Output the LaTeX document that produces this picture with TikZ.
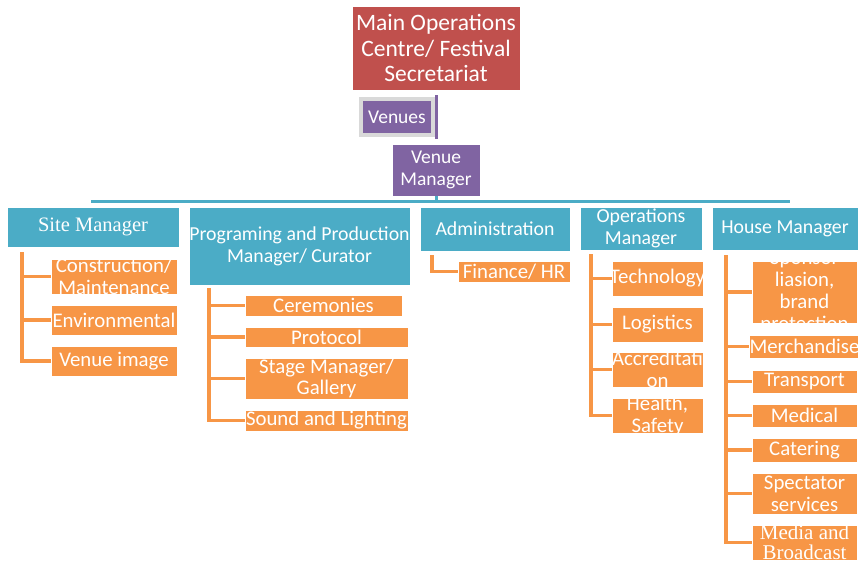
\documentclass[tikz,border=0pt]{standalone}
\usepackage{fontspec}
\setmainfont{Carlito}
\newfontfamily\seriffont{Liberation Serif}
\definecolor{cred}{HTML}{C0504D}
\definecolor{cpurple}{HTML}{8064A2}
\definecolor{cteal}{HTML}{4BACC6}
\definecolor{corange}{HTML}{F79646}
\begin{document}
\begin{tikzpicture}[x=1pt,y=-1pt,
  sz/.style 2 args={minimum width=#1pt, minimum height=#2pt},
  boxbase/.style={rectangle, inner sep=0pt, text=white, align=center, draw=white, line width=0.6pt},
  redbox/.style={boxbase, fill=cred, font=\fontsize{23.5}{25.5}\selectfont},
  purplebox/.style={boxbase, fill=cpurple, font=\fontsize{19.5}{22}\selectfont},
  tealbox/.style={boxbase, fill=cteal, font=\fontsize{19.8}{22}\selectfont},
  orangebox/.style={boxbase, fill=corange, font=\fontsize{20.8}{22}\selectfont},
  clipped/.style={path picture={\node[text=white, align=center, font=\fontsize{20.8}{22}\selectfont] at (path picture bounding box.center) {#1};}},
  oline/.style={draw=corange, line width=3.5pt},
  tline/.style={draw=cteal, line width=3pt},
]
\useasboundingbox (0,0) rectangle (858,560);
% top
\node[redbox, sz={168}{84}] (main) at (436,48) {Main Operations\\Centre/ Festival\\Secretariat};
\node[purplebox, sz={68}{32}, draw=none, preaction={draw=gray!30, line width=8pt}] (venues) at (397,117) {Venues};
\coordinate (vl1) at (436,95);
\coordinate (vl2) at (436,139);
\draw[draw=cpurple, line width=3pt] (vl1) -- (vl2);
\node[purplebox, sz={88}{52}] (vm) at (436,170) {Venue\\Manager};
% bus
\coordinate (busl) at (91,201);
\coordinate (busr) at (790,201);
\draw[tline] (busl) -- (busr);
\draw[tline] (vm.south) -- (vm.south |- busl);
% teal managers
\node[tealbox, sz={172}{40}, font=\seriffont\fontsize{20.5}{22}\selectfont] (sm) at (93,227) {Site Manager};
\node[tealbox, sz={221}{78}] (pp) at (299.5,246) {Programing and Production\\Manager/ Curator};
\node[tealbox, sz={150}{44}] (ad) at (495,229) {Administration};
\node[tealbox, sz={122}{43}] (om) at (641,228.5) {Operations\\Manager};
\node[tealbox, sz={146}{43}] (hm) at (785,228.5) {House Manager};
% site manager children
\node[orangebox, sz={126}{35}, clipped={Construction/\\Maintenance}] (c1) at (114,276.5) {};
\node[orangebox, sz={126}{30}] (c2) at (114,320) {Environmental};
\node[orangebox, sz={126}{30}] (c3) at (114,361) {Venue image};
\coordinate (s1) at (22,252);
\draw[oline] (s1) |- (c1.west);
\draw[oline] (s1) |- (c2.west);
\draw[oline] (s1) |- (c3.west);
% programming children
\node[orangebox, sz={157}{21}] (p1) at (323.5,305.5) {Ceremonies};
\node[orangebox, sz={163}{20}] (p2) at (326.5,337) {Protocol};
\node[orangebox, sz={163}{41}, font=\fontsize{20.8}{21}\selectfont] (p3) at (326.5,378.5) {Stage Manager/\\Gallery};
\node[orangebox, sz={163}{21}] (p4) at (326.5,420.5) {Sound and Lighting};
\coordinate (s2) at (209,288);
\draw[oline] (s2) |- (p1.west);
\draw[oline] (s2) |- (p2.west);
\draw[oline] (s2) |- (p3.west);
\draw[oline] (s2) |- (p4.west);
% admin child
\node[orangebox, sz={112}{21}] (f1) at (514,271.5) {Finance/ HR};
\coordinate (s3) at (432,255);
\draw[oline] (s3) |- (f1.west);
% operations children
\node[orangebox, sz={91}{35}, clipped={Technology}] (o1) at (657.5,278.5) {};
\node[orangebox, sz={91}{35}] (o2) at (657.5,324.5) {Logistics};
\node[orangebox, sz={91}{35}, clipped={Accreditati\\on}] (o3) at (657.5,369.5) {};
\node[orangebox, sz={91}{35}, clipped={Health,\\Safety}] (o4) at (657.5,415.5) {};
\coordinate (s4) at (591,254);
\draw[oline] (s4) |- (o1.west);
\draw[oline] (s4) |- (o2.west);
\draw[oline] (s4) |- (o3.west);
\draw[oline] (s4) |- (o4.west);
% house children
\node[orangebox, sz={105}{62}, clipped={Sponsor\\liasion,\\brand\\protection}] (h1) at (804.5,292) {};
\node[orangebox, sz={105}{23}] (h2) at (804.5,346.5) {Merchandise};
\node[orangebox, sz={105}{23}] (h3) at (804.5,381.5) {Transport};
\node[orangebox, sz={105}{23}] (h4) at (804.5,415.5) {Medical};
\node[orangebox, sz={105}{24}] (h5) at (804.5,450) {Catering};
\node[orangebox, sz={105}{41}] (h6) at (804.5,493.5) {Spectator\\services};
\node[orangebox, sz={105}{35}, font=\seriffont\fontsize{21}{19.5}\selectfont] (h7) at (804.5,542.5) {Media and\\Broadcast};
\coordinate (s5) at (726,255);
\foreach \h in {h1,h2,h3,h4,h5,h6,h7} { \draw[oline] (s5) |- (\h.west); }
\end{tikzpicture}
\end{document}
